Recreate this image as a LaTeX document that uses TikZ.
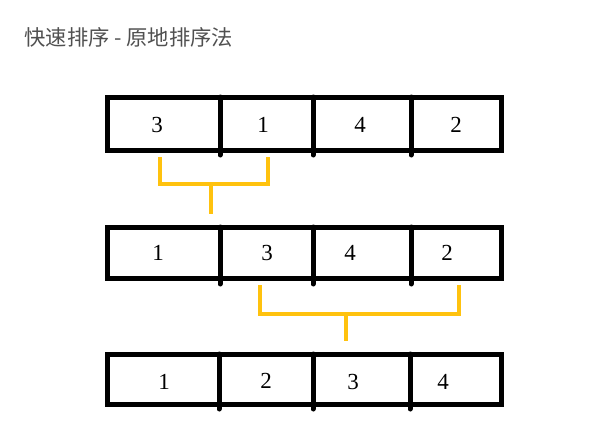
\documentclass[tikz,border=0pt]{standalone}
\usepackage{fontspec}
\setmainfont{Liberation Serif}
\newfontfamily\cjkfont{Noto Sans CJK SC}
\definecolor{bracketyellow}{RGB}{255,194,14}
\definecolor{titlegray}{RGB}{80,80,80}

\begin{document}
\begin{tikzpicture}[x=1pt,y=-1pt,
  cellnum/.style={font=\fontsize{23}{23}\selectfont},
  bar/.style={line width=5pt},
  divider/.style={line width=5pt, line cap=round},
  bracket/.style={line width=4pt, bracketyellow}]
\useasboundingbox (0,0) rectangle (598,431);
\node[anchor=west, text=titlegray, font=\cjkfont\fontsize{21.3}{21.3}\selectfont] (title) at (21,37) {快速排序 - 原地排序法};
% first row: 3 1 4 2
\draw[bar] (107,97) rectangle (501,150);
\foreach \x in {220,313,411} \draw[divider] (\x,97) -- (\x,155);
\node[cellnum] (a1) at (157,125) {3};
\node[cellnum] (a2) at (263,125) {1};
\node[cellnum] (a3) at (360,125) {4};
\node[cellnum] (a4) at (456,125) {2};
% second row: 1 3 4 2
\draw[bar] (107,227) rectangle (501,278);
\foreach \x in {220,313,411} \draw[divider] (\x,227) -- (\x,284);
\node[cellnum] (b1) at (158,253) {1};
\node[cellnum] (b2) at (267,253) {3};
\node[cellnum] (b3) at (350,253) {4};
\node[cellnum] (b4) at (447,253) {2};
% third row: 1 2 3 4
\draw[bar] (107,354) rectangle (501,404);
\foreach \x in {219,313,410} \draw[divider] (\x,354) -- (\x,409);
\node[cellnum] (c1) at (164,382) {1};
\node[cellnum] (c2) at (266,381) {2};
\node[cellnum] (c3) at (353,382) {3};
\node[cellnum] (c4) at (443,382) {4};
% brackets
\coordinate (p1) at (160,157);
\coordinate (q1) at (268,157);
\coordinate (m1) at (211,184);
\coordinate (s1) at (211,214);
\draw[bracket] (p1) |- (m1) -| (q1);
\draw[bracket] (m1) -- (s1);
\coordinate (p2) at (260,285);
\coordinate (q2) at (459,285);
\coordinate (m2) at (346,314);
\coordinate (s2) at (346,341);
\draw[bracket] (p2) |- (m2) -| (q2);
\draw[bracket] (m2) -- (s2);
\end{tikzpicture}
\end{document}
